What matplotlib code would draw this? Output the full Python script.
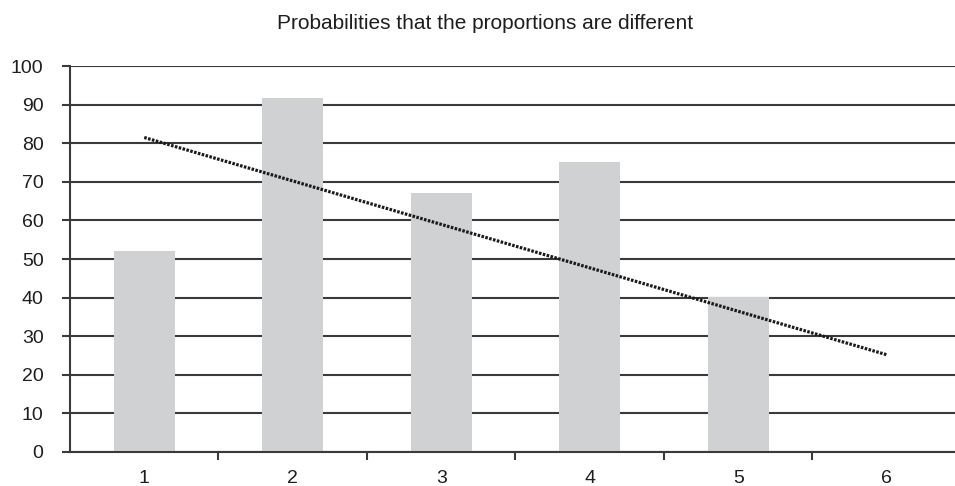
import matplotlib.pyplot as plt
import numpy as np

plt.rcParams['font.family'] = ['Liberation Sans', 'DejaVu Sans']

# data
groups = [1, 2, 3, 4, 5, 6]
probs = [52, 91.7, 67.1, 75.1, 40.1, 0.3]
# dotted trend line, values at first and last group
trend_x = [1, 6]
trend_y = [81.5, 25.2]
yticks = [0, 10, 20, 30, 40, 50, 60, 70, 80, 90, 100]

fig = plt.figure(figsize=(9.55, 4.86), dpi=100)
ax = fig.add_axes([0.0733, 0.07, 0.9267, 0.794])

ax.bar(groups, probs, width=0.41, color='#d0d1d3', zorder=2)
ax.plot(trend_x, trend_y, color='#1a1a1a', lw=2.3, linestyle=(0, (0.8, 0.45)),
        dash_capstyle='butt', zorder=3)

ax.set_xlim(0.5, 6.46)
ax.set_ylim(0, 100)
ax.set_yticks(yticks)
ax.yaxis.grid(True, color='#3a3a3a', lw=1.5, zorder=0)
ax.set_axisbelow(True)

# category labels centered, tick marks at boundaries
ax.set_xticks(groups)
ax.set_xticklabels([str(g) for g in groups])
ax.set_xticks([1.5, 2.5, 3.5, 4.5, 5.5], minor=True)
ax.tick_params(axis='x', which='major', length=0, pad=13, labelsize=14, labelcolor='#1e1e1e')
ax.tick_params(axis='x', which='minor', length=6, width=1.5, color='#3a3a3a')
ax.tick_params(axis='y', length=6, width=1.5, color='#3a3a3a', pad=13, labelsize=14, labelcolor='#1e1e1e')

for s in ['top', 'right']:
    ax.spines[s].set_visible(False)
for s in ['left', 'bottom']:
    ax.spines[s].set_color('#3a3a3a')
    ax.spines[s].set_linewidth(1.5)

fig.text(0.508, 0.952, 'Probabilities that the proportions are different',
         ha='center', va='center', fontsize=15, color='#1e1e1e')

fig.savefig('out.png', dpi=100)
